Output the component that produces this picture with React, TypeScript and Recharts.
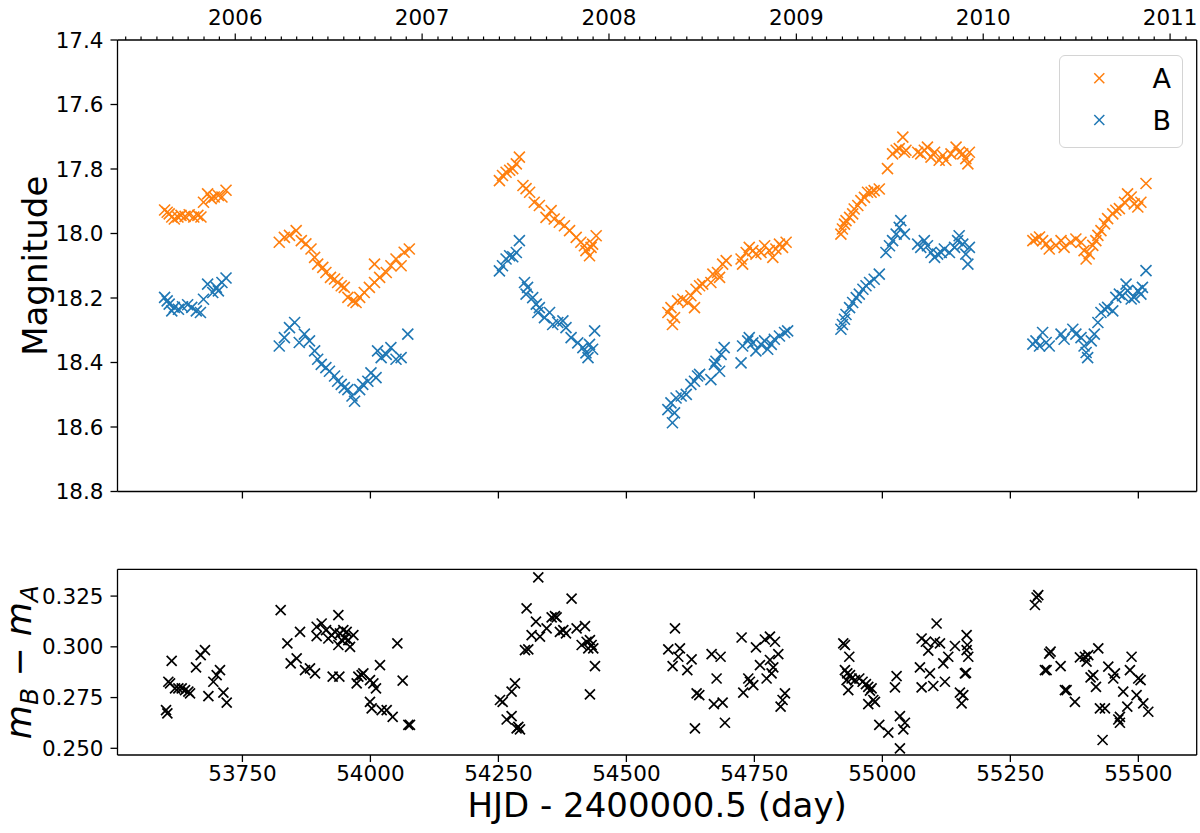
import React from 'react';
import { ScatterChart, Scatter, XAxis, YAxis, Legend } from 'recharts';

// ---------- data: [MJD, magnitude] ----------
const A_POINTS: [number, number][] = [
  [53598, 17.927], [53603, 17.934], [53607, 17.939], [53612, 17.949], [53617, 17.955], [53624, 17.949],
  [53630, 17.944], [53638, 17.947], [53646, 17.942], [53655, 17.949], [53663, 17.944], [53669, 17.949],
  [53674, 17.903], [53682, 17.877], [53689, 17.892], [53695, 17.887], [53703, 17.882], [53710, 17.887], [53718, 17.866],
  [53822, 18.027], [53832, 18.012], [53842, 18.006], [53855, 17.991], [53865, 18.022], [53874, 18.032],
  [53884, 18.048], [53891, 18.074], [53897, 18.095], [53907, 18.105], [53913, 18.121], [53922, 18.136],
  [53930, 18.141], [53936, 18.152], [53943, 18.162], [53949, 18.167], [53956, 18.198], [53966, 18.209],
  [53972, 18.214], [53979, 18.198], [53988, 18.183], [53998, 18.167], [54008, 18.152], [54008, 18.095],
  [54018, 18.136], [54031, 18.121], [54040, 18.1], [54050, 18.079], [54060, 18.1], [54066, 18.058], [54076, 18.048],
  [54252, 17.836], [54258, 17.82], [54265, 17.81], [54272, 17.804], [54278, 17.799], [54285, 17.784],
  [54291, 17.763], [54298, 17.851], [54304, 17.861], [54311, 17.872], [54320, 17.903], [54330, 17.913],
  [54343, 17.95], [54353, 17.929], [54359, 17.955], [54369, 17.965], [54379, 17.976], [54389, 17.991],
  [54402, 18.012], [54411, 18.027], [54418, 18.038], [54421, 18.053], [54428, 18.069], [54434, 18.033],
  [54441, 18.007], [54431, 18.043],
  [54581, 18.245], [54587, 18.23], [54594, 18.261], [54590, 18.282], [54600, 18.209], [54610, 18.204],
  [54620, 18.214], [54626, 18.193], [54633, 18.23], [54636, 18.173], [54643, 18.162], [54649, 18.157],
  [54665, 18.152], [54669, 18.126], [54678, 18.121], [54682, 18.136], [54688, 18.095], [54695, 18.084],
  [54727, 18.095], [54724, 18.079], [54734, 18.059], [54740, 18.043], [54747, 18.053], [54753, 18.064],
  [54763, 18.059], [54770, 18.038], [54779, 18.053], [54786, 18.074], [54792, 18.048], [54799, 18.033],
  [54805, 18.043], [54812, 18.027],
  [54919, 18.002], [54922, 17.986], [54926, 17.971], [54929, 17.96], [54936, 17.95], [54942, 17.939],
  [54945, 17.924], [54952, 17.913], [54958, 17.898], [54965, 17.888], [54971, 17.872], [54978, 17.872],
  [54984, 17.867], [54994, 17.862], [55010, 17.799], [55020, 17.753], [55027, 17.742], [55033, 17.737],
  [55040, 17.701], [55043, 17.748], [55046, 17.742], [55069, 17.748], [55075, 17.753], [55082, 17.742],
  [55088, 17.732], [55095, 17.763], [55102, 17.748], [55111, 17.773], [55118, 17.758], [55124, 17.773],
  [55134, 17.753], [55144, 17.732], [55150, 17.748], [55157, 17.753], [55163, 17.768], [55167, 17.784], [55170, 17.748],
  [55294, 18.022], [55300, 18.017], [55307, 18.011], [55313, 18.022], [55320, 18.032], [55326, 18.048],
  [55339, 18.037], [55349, 18.022], [55355, 18.043], [55368, 18.027], [55378, 18.017], [55388, 18.027],
  [55394, 18.053], [55398, 18.079], [55404, 18.063], [55411, 18.037], [55417, 18.022], [55421, 18.006],
  [55427, 17.991], [55434, 17.97], [55440, 17.954], [55450, 17.939], [55456, 17.928], [55463, 17.923],
  [55473, 17.903], [55479, 17.877], [55486, 17.887], [55492, 17.908], [55499, 17.918], [55505, 17.903], [55515, 17.845],
];

const B_POINTS: [number, number][] = [
  [53598, 18.198], [53603, 18.209], [53607, 18.219], [53612, 18.24], [53617, 18.229], [53625, 18.235],
  [53633, 18.227], [53643, 18.221], [53651, 18.229], [53660, 18.24], [53668, 18.245], [53674, 18.204],
  [53682, 18.157], [53692, 18.183], [53699, 18.167], [53703, 18.178], [53710, 18.152], [53718, 18.138],
  [53822, 18.349], [53832, 18.323], [53842, 18.292], [53852, 18.276], [53861, 18.338], [53871, 18.312],
  [53881, 18.333], [53891, 18.364], [53897, 18.39], [53904, 18.406], [53913, 18.416], [53920, 18.427],
  [53930, 18.442], [53936, 18.458], [53943, 18.468], [53949, 18.478], [53956, 18.484], [53964, 18.504],
  [53969, 18.52], [53979, 18.484], [53985, 18.468], [53995, 18.458], [54001, 18.432], [54011, 18.447],
  [54014, 18.364], [54021, 18.385], [54031, 18.375], [54040, 18.354], [54050, 18.39], [54060, 18.385], [54073, 18.312],
  [54252, 18.116], [54258, 18.1], [54265, 18.079], [54272, 18.069], [54278, 18.072], [54285, 18.059],
  [54291, 18.022], [54301, 18.152], [54307, 18.167], [54304, 18.188], [54317, 18.199], [54324, 18.219],
  [54330, 18.23], [54327, 18.245], [54340, 18.261], [54350, 18.245], [54356, 18.282], [54366, 18.276],
  [54376, 18.271], [54382, 18.292], [54392, 18.323], [54405, 18.339], [54415, 18.354], [54421, 18.37],
  [54425, 18.385], [54428, 18.344], [54438, 18.302], [54434, 18.359],
  [54581, 18.546], [54587, 18.525], [54594, 18.556], [54590, 18.587], [54597, 18.51], [54607, 18.504],
  [54617, 18.499], [54626, 18.468], [54633, 18.458], [54639, 18.442], [54643, 18.437], [54665, 18.453],
  [54672, 18.406], [54675, 18.396], [54682, 18.427], [54685, 18.375], [54691, 18.354], [54724, 18.401],
  [54727, 18.349], [54737, 18.333], [54740, 18.323], [54747, 18.339], [54753, 18.364], [54763, 18.344],
  [54770, 18.333], [54776, 18.359], [54783, 18.344], [54789, 18.328], [54799, 18.318], [54809, 18.307], [54815, 18.302],
  [54919, 18.297], [54922, 18.282], [54926, 18.266], [54929, 18.251], [54936, 18.23], [54942, 18.214],
  [54949, 18.199], [54955, 18.188], [54962, 18.173], [54968, 18.162], [54975, 18.152], [54984, 18.142],
  [54994, 18.126], [55007, 18.059], [55014, 18.038], [55020, 18.022], [55027, 18.002], [55033, 17.981],
  [55036, 17.96], [55043, 18.002], [55069, 18.033], [55075, 18.043], [55082, 18.022], [55088, 18.038],
  [55095, 18.059], [55102, 18.074], [55108, 18.064], [55115, 18.059], [55121, 18.048], [55131, 18.059],
  [55141, 18.043], [55147, 18.022], [55150, 18.007], [55157, 18.033], [55163, 18.064], [55167, 18.095], [55170, 18.043],
  [55294, 18.343], [55300, 18.333], [55307, 18.349], [55313, 18.307], [55320, 18.338], [55326, 18.349],
  [55349, 18.312], [55355, 18.328], [55372, 18.297], [55378, 18.312], [55388, 18.323], [55394, 18.349],
  [55398, 18.369], [55401, 18.385], [55408, 18.333], [55414, 18.312], [55421, 18.276], [55427, 18.245],
  [55434, 18.234], [55440, 18.229], [55450, 18.24], [55456, 18.198], [55463, 18.188], [55469, 18.193],
  [55476, 18.157], [55479, 18.177], [55486, 18.203], [55492, 18.198], [55499, 18.177], [55505, 18.188],
  [55508, 18.167], [55515, 18.115],
];

// [MJD, m_B - m_A]
const DIFF_POINTS: [number, number][] = [
  [53600.8, 0.2688], [53603.4, 0.2672], [53611.8, 0.2931], [53605.3, 0.2828], [53608.6, 0.282], [53618.4, 0.2795],
  [53624.9, 0.2795], [53631.4, 0.2795], [53637.9, 0.2787], [53647.7, 0.2771], [53644.4, 0.2779], [53659.4, 0.2899],
  [53668.5, 0.2959], [53676.9, 0.2984], [53683.5, 0.2757], [53693.2, 0.2828], [53699.7, 0.2861], [53706.2, 0.2885],
  [53712.8, 0.2774], [53719.3, 0.2725],
  [53824.7, 0.3181], [53837.8, 0.3017], [53844.3, 0.2918], [53856.0, 0.2943], [53862.5, 0.3074], [53872.3, 0.2885],
  [53882.0, 0.2894], [53891.8, 0.2869], [53895.0, 0.3099], [53895.0, 0.3053], [53904.8, 0.3115], [53913.3, 0.3082],
  [53917.8, 0.3041], [53926.3, 0.2853], [53924.3, 0.3058], [53930.9, 0.3074], [53937.4, 0.3156], [53937.4, 0.3009],
  [53939.3, 0.2853], [53940.6, 0.3066], [53943.9, 0.3033], [53947.1, 0.3082], [53950.4, 0.3041], [53953.6, 0.3074],
  [53956.9, 0.3033], [53960.2, 0.3], [53966.7, 0.3058], [53973.2, 0.282], [53976.4, 0.2853], [53982.9, 0.2861],
  [53986.2, 0.2869], [53999.2, 0.2836], [54005.7, 0.282], [54010.9, 0.2795], [53999.2, 0.2729], [54002.5, 0.2697],
  [54018.7, 0.291], [54022.0, 0.2688], [54031.8, 0.2688], [54043.5, 0.2655], [54052.6, 0.3017], [54063.0, 0.2833],
  [54074.1, 0.2615], [54077.3, 0.2615],
  [54253.1, 0.2738], [54258.3, 0.2729], [54275.8, 0.2779], [54282.4, 0.282], [54266.1, 0.2642], [54275.8, 0.2659],
  [54285.6, 0.2598], [54292.1, 0.2593], [54288.9, 0.2606], [54301.9, 0.2984], [54308.4, 0.2987], [54305.1, 0.3189],
  [54314.9, 0.3058], [54323.4, 0.3124], [54331.2, 0.305], [54344.2, 0.3091], [54354.0, 0.3145], [54360.5, 0.3151],
  [54363.7, 0.3145], [54370.2, 0.3074], [54376.8, 0.3082], [54382.0, 0.3066], [54393.0, 0.3238], [54402.8, 0.3091],
  [54412.6, 0.3009], [54419.1, 0.3102], [54422.3, 0.3025], [54425.6, 0.2992], [54428.8, 0.3033], [54432.1, 0.3009],
  [54435.3, 0.2992], [54438.6, 0.2905], [54428.8, 0.2766], [54327.9, 0.3342],
  [54581.8, 0.2987], [54590.3, 0.2905], [54594.9, 0.3091], [54601.4, 0.2951], [54604.6, 0.2992], [54619.0, 0.2885],
  [54627.4, 0.2938], [54633.9, 0.2598], [54637.2, 0.2771], [54642.4, 0.2762], [54666.5, 0.2964], [54671.0, 0.2718],
  [54676.2, 0.2844], [54684.0, 0.2951], [54688.0, 0.2725], [54692.5, 0.2626], [54725.1, 0.3046], [54728.3, 0.2774],
  [54738.1, 0.2844], [54741.3, 0.2828], [54747.8, 0.2811], [54753.1, 0.2997], [54760.9, 0.291], [54770.6, 0.3036],
  [54773.9, 0.2844], [54780.4, 0.305], [54780.4, 0.2935], [54783.6, 0.2869], [54786.9, 0.2899], [54790.2, 0.3025],
  [54796.7, 0.2964], [54801.2, 0.2705], [54805.1, 0.2738], [54809.7, 0.2771],
  [54923.7, 0.3017], [54926.9, 0.3009], [54935.4, 0.2951], [54926.9, 0.2885], [54931.5, 0.2869], [54936.7, 0.2861],
  [54930.2, 0.2836], [54939.9, 0.2844], [54933.4, 0.2787], [54946.5, 0.2836], [54954.9, 0.2844], [54961.4, 0.2828],
  [54967.9, 0.2816], [54972.5, 0.2803], [54975.8, 0.2784], [54979.0, 0.2795], [54972.5, 0.2718], [54982.3, 0.2738],
  [54985.5, 0.2729], [54994.0, 0.2615], [55011.6, 0.2577], [55024.6, 0.28], [55027.8, 0.2856], [55034.3, 0.2659],
  [55034.3, 0.25], [55040.9, 0.2593], [55044.1, 0.2626], [55073.4, 0.2899], [55076.7, 0.28], [55076.7, 0.3041],
  [55085.1, 0.3025], [55092.9, 0.2869], [55089.7, 0.2981], [55099.4, 0.2807], [55102.7, 0.3025], [55105.9, 0.3115],
  [55112.5, 0.3017], [55122.2, 0.2828], [55119.0, 0.2918], [55128.7, 0.2951], [55141.8, 0.3004], [55151.5, 0.2774],
  [55154.8, 0.2721], [55158.0, 0.2762], [55161.3, 0.2869], [55164.6, 0.3058], [55165.9, 0.3009], [55167.8, 0.2951],
  [55164.6, 0.2984], [55163.3, 0.2872],
  [55298.0, 0.3206], [55301.3, 0.3243], [55304.5, 0.3255], [55317.5, 0.2885], [55320.8, 0.2885], [55326.0, 0.2967],
  [55328.6, 0.2976], [55348.2, 0.2905], [55356.6, 0.2787], [55359.9, 0.2787], [55376.1, 0.2729], [55385.9, 0.2948],
  [55395.7, 0.2951], [55398.9, 0.2927], [55402.2, 0.2959], [55406.7, 0.2849], [55411.9, 0.2861], [55417.2, 0.2803],
  [55421.7, 0.2992], [55425.0, 0.2697], [55430.2, 0.2541], [55434.7, 0.2697], [55441.3, 0.2902], [55451.0, 0.2844],
  [55454.3, 0.2869], [55460.8, 0.2642], [55464.0, 0.2626], [55470.5, 0.2779], [55478.4, 0.2705], [55483.6, 0.2885],
  [55486.8, 0.2951], [55496.6, 0.2762], [55499.8, 0.2844], [55504.4, 0.2836], [55509.6, 0.2721], [55519.4, 0.268],
  [55464.0, 0.2655],
];

// ---------- axes ----------
const X_DOMAIN: [number, number] = [53506, 55614];
const X_TICKS = [53750, 54000, 54250, 54500, 54750, 55000, 55250, 55500];
const MAG_DOMAIN: [number, number] = [17.4, 18.8];
const MAG_TICKS = [17.4, 17.6, 17.8, 18.0, 18.2, 18.4, 18.6, 18.8];
const DIFF_DOMAIN: [number, number] = [0.2467, 0.3382];
const DIFF_TICKS = [0.25, 0.275, 0.3, 0.325];
const YEAR_LABELS = [2005, 2006, 2007, 2008, 2009, 2010, 2011];

const mjdOf = (y: number, m: number) => Date.UTC(y, m, 1) / 86400000 + 40587;
const MONTH_TICKS: number[] = [];
const YEAR_AT: Record<number, number> = {};
YEAR_LABELS.forEach((y) => {
  for (let m = 0; m < 12; m++) {
    const v = mjdOf(y, m);
    if (v >= X_DOMAIN[0] && v <= X_DOMAIN[1]) {
      MONTH_TICKS.push(v);
      if (m === 0) YEAR_AT[v] = y;
    }
  }
});

const ORANGE = '#ff7f0e';
const BLUE = '#1f77b4';
const FONT = 'DejaVu Sans';
const TICK_FS = 21.5;

const toObj = (arr: [number, number][]) => arr.map(([x, y]) => ({ x, y }));

const cross = (color: string, size: number, sw: number) => (props: any) => {
  const { cx, cy } = props;
  if (cx == null || cy == null) return <g />;
  const h = size / 2;
  return (
    <g>
      <line x1={cx - h} y1={cy - h} x2={cx + h} y2={cy + h} stroke={color} strokeWidth={sw} />
      <line x1={cx - h} y1={cy + h} x2={cx + h} y2={cy - h} stroke={color} strokeWidth={sw} />
    </g>
  );
};

const YearTick = (props: any) => {
  const { x, y, payload } = props;
  const year = YEAR_AT[payload.value];
  const major = year !== undefined;
  return (
    <g>
      <line x1={x} x2={x} y1={y} y2={y - (major ? 6.5 : 3.5)} stroke="#000" strokeWidth={1.2} />
      {major && (
        <text x={x} y={y - 15} textAnchor="middle" fontSize={TICK_FS} fontFamily={FONT} fill="#000">
          {year}
        </text>
      )}
    </g>
  );
};

const axisLine = { stroke: '#000', strokeWidth: 1.3 };
const tickLine = { stroke: '#000', strokeWidth: 1.3 };
const tickStyle = { fill: '#000', fontSize: TICK_FS, fontFamily: FONT };

const LegendBox = () => (
  <div
    style={{
      width: 124,
      height: 93,
      border: '1.3px solid #d4d4d4',
      borderRadius: 6,
      background: 'rgba(255,255,255,0.85)',
      boxSizing: 'border-box',
      position: 'relative',
    }}
  >
    <svg width={124} height={93} style={{ position: 'absolute', left: -1.3, top: -1.3 }}>
      {cross(ORANGE, 10, 1.5)({ cx: 40.3, cy: 23.3 })}
      <text x={102.7} y={33} textAnchor="middle" fontSize={27} fontFamily={FONT} fill="#000">A</text>
      {cross(BLUE, 10, 1.5)({ cx: 40.3, cy: 65 })}
      <text x={102.7} y={74.7} textAnchor="middle" fontSize={27} fontFamily={FONT} fill="#000">B</text>
    </svg>
  </div>
);

export default function App() {
  const aData = toObj(A_POINTS);
  const bData = toObj(B_POINTS);
  const dData = toObj(DIFF_POINTS);
  return (
    <div style={{ position: 'absolute', left: 0, top: 0, width: 1200, height: 833, background: '#fff', fontFamily: FONT }}>
      <div style={{ position: 'absolute', left: 0, top: 0 }}>
        <ScatterChart width={1200} height={518} margin={{ top: 0, right: 2.3, bottom: 0, left: 0 }}>
          <XAxis
            xAxisId="top"
            orientation="top"
            type="number"
            dataKey="x"
            domain={X_DOMAIN}
            allowDataOverflow
            ticks={MONTH_TICKS}
            interval={0}
            height={40}
            tickSize={0}
            tickMargin={0}
            tickLine={false}
            axisLine={axisLine}
            tick={<YearTick />}
          />
          <XAxis
            xAxisId="bottom"
            orientation="bottom"
            type="number"
            dataKey="x"
            domain={X_DOMAIN}
            allowDataOverflow
            ticks={X_TICKS}
            interval={0}
            height={26.5}
            tickSize={7}
            tickLine={tickLine}
            axisLine={axisLine}
            tickFormatter={() => ''}
          />
          <YAxis
            yAxisId="left"
            type="number"
            dataKey="y"
            domain={MAG_DOMAIN}
            reversed
            allowDataOverflow
            ticks={MAG_TICKS}
            interval={0}
            width={117.5}
            tickSize={7}
            tickMargin={7}
            tickLine={tickLine}
            axisLine={axisLine}
            tick={tickStyle}
            tickFormatter={(v: number) => v.toFixed(1)}
            label={(p: any) => {
              const vb = p.viewBox || { y: 40, height: 451.5 };
              const cy = vb.y + vb.height / 2;
              return (
                <text x={47} y={cy} transform={`rotate(-90, 47, ${cy})`} textAnchor="middle" fontSize={34} fontFamily={FONT} fill="#000">
                  Magnitude
                </text>
              );
            }}
          />
          <YAxis
            yAxisId="right"
            orientation="right"
            type="number"
            domain={[0, 1]}
            width={1}
            tick={false}
            tickLine={false}
            axisLine={axisLine}
          />
          <Legend
            verticalAlign="middle"
            align="center"
            layout="horizontal"
            wrapperStyle={{ position: 'absolute', left: 1059, top: 55, width: 124, height: 93 }}
            content={() => <LegendBox />}
          />
          <Scatter name="A" data={aData} xAxisId="bottom" yAxisId="left" isAnimationActive={false} shape={cross(ORANGE, 11, 1.6)} />
          <Scatter name="B" data={bData} xAxisId="bottom" yAxisId="left" isAnimationActive={false} shape={cross(BLUE, 11, 1.6)} />
        </ScatterChart>
      </div>
      <div style={{ position: 'absolute', left: 0, top: 520 }}>
        <ScatterChart width={1200} height={313} margin={{ top: 0, right: 2.3, bottom: 0, left: 0 }}>
          <XAxis
            xAxisId="top"
            orientation="top"
            type="number"
            dataKey="x"
            domain={X_DOMAIN}
            allowDataOverflow
            height={49.3}
            tick={false}
            tickLine={false}
            axisLine={axisLine}
          />
          <XAxis
            xAxisId="bottom"
            orientation="bottom"
            type="number"
            dataKey="x"
            domain={X_DOMAIN}
            allowDataOverflow
            ticks={X_TICKS}
            interval={0}
            height={78}
            tickSize={7}
            tickMargin={4}
            tickLine={tickLine}
            axisLine={axisLine}
            tick={tickStyle}
            label={(p: any) => {
              const vb = p.viewBox || { x: 117.5, y: 235, width: 1079.2 };
              return (
                <text x={vb.x + vb.width / 2} y={vb.y + 62} textAnchor="middle" fontSize={34} fontFamily={FONT} fill="#000">
                  HJD - 2400000.5 (day)
                </text>
              );
            }}
          />
          <YAxis
            yAxisId="left"
            type="number"
            dataKey="y"
            domain={DIFF_DOMAIN}
            allowDataOverflow
            ticks={DIFF_TICKS}
            interval={0}
            width={117.5}
            tickSize={7}
            tickMargin={7}
            tickLine={tickLine}
            axisLine={axisLine}
            tick={tickStyle}
            tickFormatter={(v: number) => v.toFixed(3)}
            label={(p: any) => {
              const vb = p.viewBox || { y: 49.3, height: 185.7 };
              const cy = vb.y + vb.height / 2;
              const bx = 31;
              return (
                <text x={bx} y={cy} transform={`rotate(-90, ${bx}, ${cy})`} textAnchor="middle" fontSize={35} fontFamily={FONT} fill="#000">
                  <tspan fontStyle="italic">m</tspan>
                  <tspan fontStyle="italic" fontSize={25} dy={7}>B</tspan>
                  <tspan dy={-7}>{' \u2212 '}</tspan>
                  <tspan fontStyle="italic">m</tspan>
                  <tspan fontStyle="italic" fontSize={25} dy={7}>A</tspan>
                </text>
              );
            }}
          />
          <YAxis
            yAxisId="right"
            orientation="right"
            type="number"
            domain={[0, 1]}
            width={1}
            tick={false}
            tickLine={false}
            axisLine={axisLine}
          />
          <Scatter name="diff" data={dData} xAxisId="bottom" yAxisId="left" isAnimationActive={false} shape={cross('#000', 10, 1.7)} />
        </ScatterChart>
      </div>
    </div>
  );
}
